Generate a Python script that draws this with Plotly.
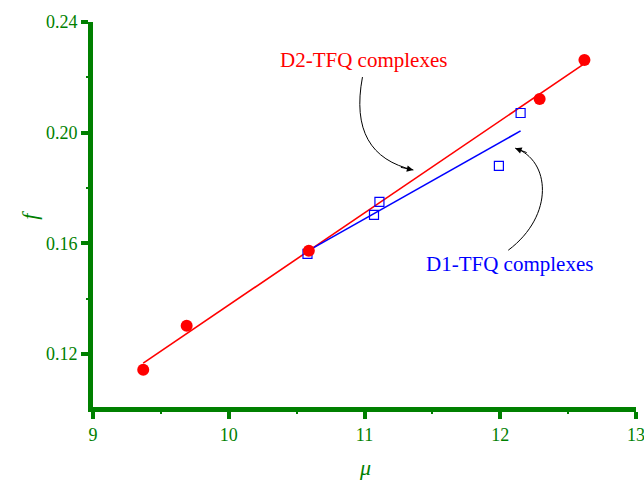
import numpy as np
import plotly.graph_objects as go

# D2-TFQ complexes (filled red circles)
d2_mu = [9.37, 9.69, 10.59, 12.29, 12.62]
d2_f = [0.1143, 0.1302, 0.1573, 0.2122, 0.2263]

# D1-TFQ complexes (open blue squares)
d1_mu = [10.58, 11.07, 11.11, 11.99, 12.15]
d1_f = [0.1562, 0.1703, 0.1750, 0.1880, 0.2071]

x_ticks = [9, 10, 11, 12, 13]
y_ticks = [0.12, 0.16, 0.20, 0.24]

GREEN = "#008000"
SERIF = "Times New Roman, Liberation Serif, serif"


def fit_line(x, y):
    k, b = np.polyfit(x, y, 1)
    xs = np.array([min(x), max(x)])
    return xs, k * xs + b


fig = go.Figure()

d2_x, d2_y = fit_line(d2_mu, d2_f)
d1_x, d1_y = fit_line(d1_mu, d1_f)

fig.add_trace(go.Scatter(x=d2_x, y=d2_y, mode="lines",
                         line=dict(color="red", width=1.6), showlegend=False))
fig.add_trace(go.Scatter(x=d1_x, y=d1_y, mode="lines",
                         line=dict(color="blue", width=1.6), showlegend=False))
fig.add_trace(go.Scatter(x=d1_mu, y=d1_f, mode="markers",
                         marker=dict(symbol="square-open", size=9,
                                     color="blue", line=dict(width=1.2)),
                         showlegend=False))
fig.add_trace(go.Scatter(x=d2_mu, y=d2_f, mode="markers",
                         marker=dict(symbol="circle", size=12, color="red"),
                         showlegend=False))

# curved pointers from the labels to the fitted lines
fig.add_shape(type="path", xref="x", yref="y",
              path="M 10.985,0.2201 C 10.912,0.2009 11.044,0.1901 11.36,0.1865",
              line=dict(color="black", width=1))
fig.add_shape(type="path", xref="x", yref="y",
              path="M 12.059,0.1575 C 12.404,0.1702 12.368,0.1901 12.11,0.1944",
              line=dict(color="black", width=1))
fig.add_annotation(x=11.36, y=0.1865, ax=-14, ay=-3, text="", showarrow=True,
                   arrowhead=2, arrowsize=1.3, arrowwidth=1, arrowcolor="black")
fig.add_annotation(x=12.11, y=0.1944, ax=13, ay=5, text="", showarrow=True,
                   arrowhead=2, arrowsize=1.3, arrowwidth=1, arrowcolor="black")


def label(x, y, text, color, size=21, angle=0):
    fig.add_annotation(x=x, y=y, xref="x", yref="y", text=text, showarrow=False,
                       xanchor="center", yanchor="middle", textangle=angle,
                       font=dict(family=SERIF, size=size, color=color))


label(10.99, 0.2263, "D2-TFQ complexes", "red", size=21)
label(12.07, 0.1526, "D1-TFQ complexes", "blue", size=21)

# axis titles, placed outside the plotting area
fig.add_annotation(xref="x", yref="paper", x=11.0, y=-0.158, text="<i>μ</i>",
                   showarrow=False, xanchor="center", yanchor="middle",
                   font=dict(family=SERIF, size=22, color=GREEN))
fig.add_annotation(xref="paper", yref="y", x=-0.116, y=0.17, text="<i>f</i>",
                   showarrow=False, xanchor="center", yanchor="middle", textangle=-90,
                   font=dict(family=SERIF, size=22, color=GREEN))

axis_common = dict(
    showgrid=False, zeroline=False, automargin=False,
    showline=True, linecolor=GREEN, linewidth=5,
    ticks="outside", ticklen=7, tickwidth=4, tickcolor=GREEN,
    tickfont=dict(family=SERIF, size=18, color=GREEN),
    ticklabeloverflow="allow",
    minor=dict(ticks="outside", ticklen=2, tickwidth=2, tickcolor=GREEN),
)

fig.update_xaxes(range=[9.0, 13.0], tickvals=x_ticks,
                 ticktext=[str(v) for v in x_ticks],
                 minor_tickvals=[9.5, 10.5, 11.5, 12.5], **axis_common)
fig.update_yaxes(range=[0.10083, 0.24], tickvals=y_ticks,
                 ticktext=[f"{v:.2f}" for v in y_ticks],
                 minor_tickvals=[0.14, 0.18, 0.22], **axis_common)

fig.update_layout(
    width=644, height=485,
    margin=dict(l=93, r=8, t=22, b=78, autoexpand=False),
    plot_bgcolor="white", paper_bgcolor="white",
)

fig.write_html("out.html")
